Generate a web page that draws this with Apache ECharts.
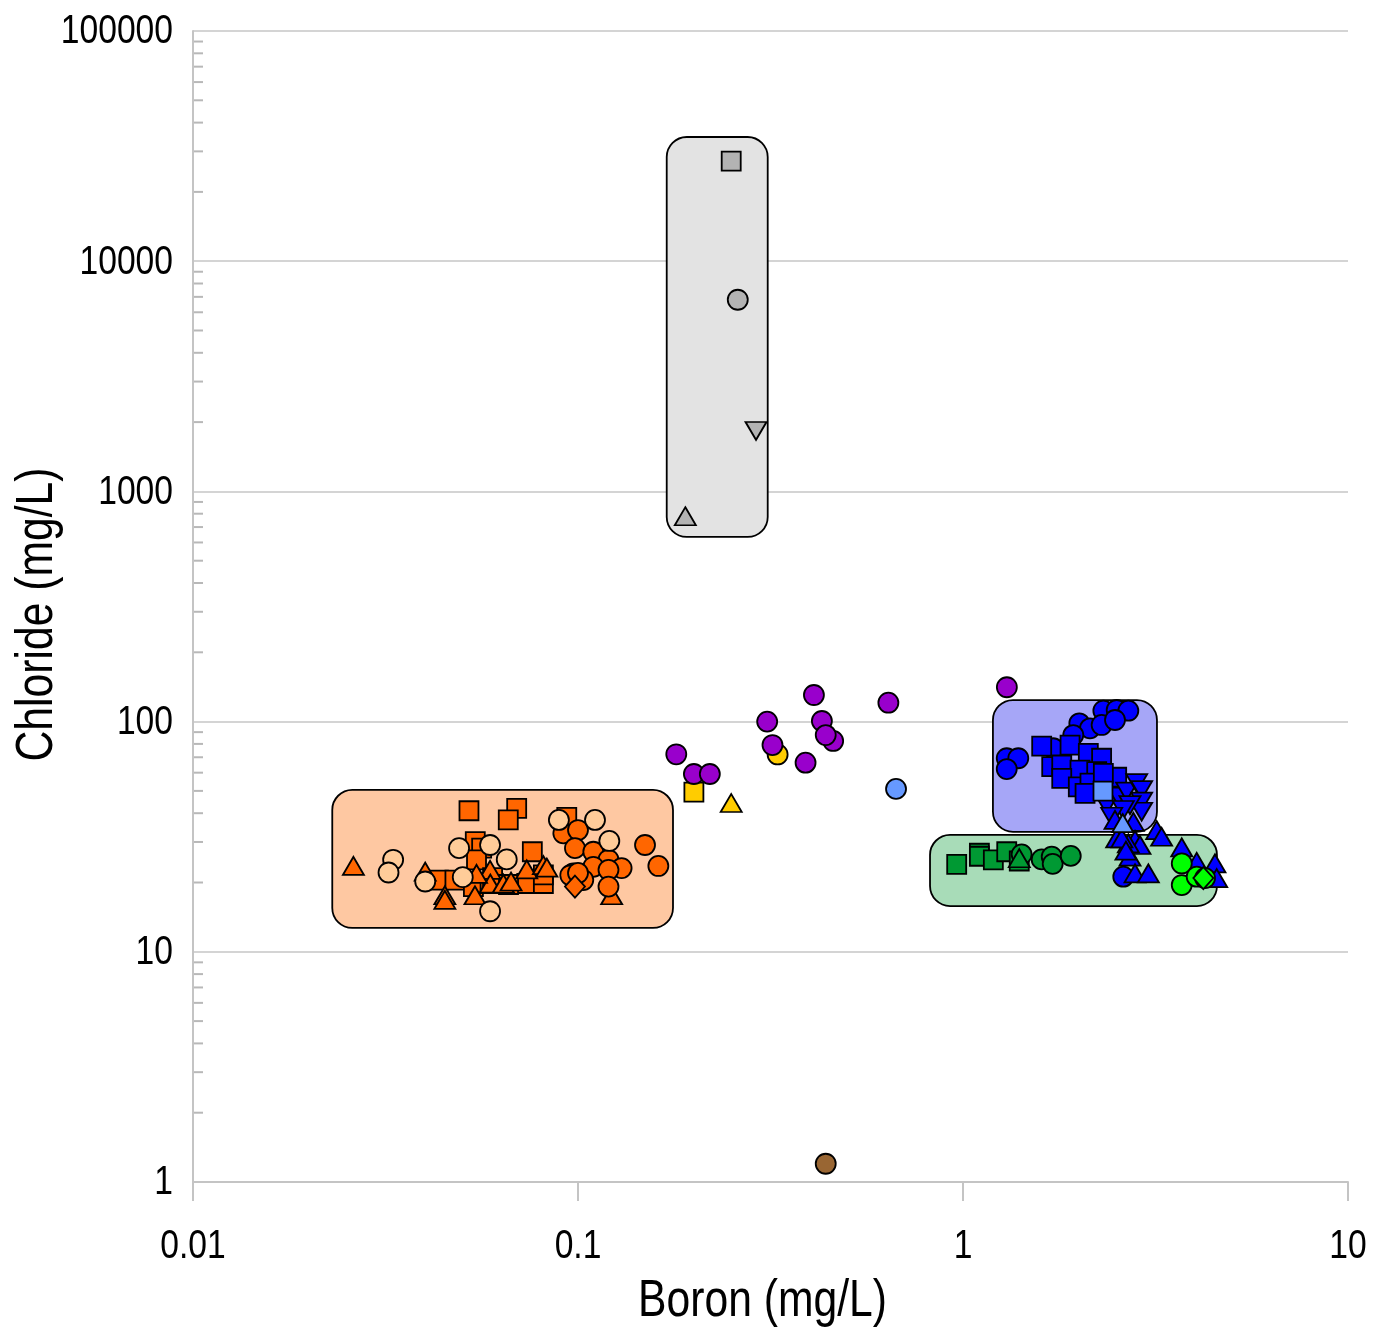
<!DOCTYPE html>
<html>
<head>
<meta charset="utf-8">
<title>Boron vs Chloride</title>
<script src="https://cdn.jsdelivr.net/npm/echarts@6/dist/echarts.min.js"></script>
<style>
  html, body { margin: 0; padding: 0; background: #ffffff; }
  #chart { width: 1373px; height: 1340px; }
</style>
</head>
<body>
<div id="chart"></div>
<script>
// Axis ticks (mg/L)
const boronTicks = [0.01, 0.1, 1, 10];
const chlorideTicks = [1, 10, 100, 1000, 10000, 100000];
const minorMultipliers = [2, 3, 4, 5, 6, 7, 8, 9];
const boronTitle = 'Boron (mg/L)';
const chlorideTitle = 'Chloride (mg/L)';

// Group envelopes: [boron min, boron max, chloride min, chloride max]
const envGrey   = [0.170, 0.311, 634, 34640];
const envOrange = [0.0230, 0.1765, 12.7, 50.5];
const envBlue   = [1.196, 3.19, 33.2, 124];
const envGreen  = [0.821, 4.567, 15.8, 32.2];

// Samples as [boron, chloride]
const greySquare   = [[0.25, 27200]];
const greyCircle   = [[0.26, 6800]];
const greyDown     = [[0.29, 1830]];
const greyUp       = [[0.19, 780]];

const blueCircles = [[1.299, 69.3], [1.392, 69.3], [1.299, 62.2], [2.005, 98.3], [2.137, 93.5],
  [2.315, 111.5], [2.507, 112.3], [2.688, 111.5], [2.291, 96.7], [2.482, 101.6],
  [1.934, 87.4], [1.716, 76.6], [2.608, 21.2]];
const blueSquares = [[1.601, 78.3], [1.897, 79.1], [2.116, 72.8], [2.291, 69.3], [1.70, 63.7],
  [1.805, 64.8], [2.013, 61.6], [2.225, 60.6], [2.507, 57.3], [1.805, 56.7],
  [1.993, 52.1], [2.137, 54.0], [2.075, 48.8], [2.315, 59.6]];
const blueDown = [[2.361, 43.4], [2.532, 47.2], [2.661, 49.6], [2.826, 54.0], [2.911, 50.4],
  [2.911, 44.9], [2.911, 40.6], [2.715, 43.4], [2.608, 41.3], [2.433, 38.6]];
const blueUp = [[2.482, 37.4], [2.507, 31.1], [2.77, 36.7], [2.798, 30.6], [2.882, 29.1],
  [2.688, 29.6], [3.185, 33.8], [3.28, 31.6], [2.715, 25.9], [2.798, 21.9],
  [3.03, 21.9], [3.70, 28.4], [4.046, 24.6], [4.513, 24.2], [4.56, 20.9],
  [2.586, 31.1], [2.65, 27.5]];
const paleBlueSquare = [[2.31, 49.9]];
const paleBlueUp     = [[2.6, 36.2]];
const paleBlueCircle = [[0.67, 51]];

const greenSquares  = [[0.963, 24.0], [1.103, 26.8], [1.103, 26.0], [1.199, 25.1], [1.299, 27.2], [1.40, 24.8]];
const greenCircles  = [[1.42, 26.5], [1.601, 25.2], [1.70, 25.9], [1.71, 24.1], [1.905, 26.1]];
const greenUp       = [[1.40, 25.5]];
const limeCircles   = [[3.70, 24.2], [3.70, 19.5], [4.046, 21.2], [4.253, 20.9]];
const limeDiamond   = [[4.21, 20.9]];

const orangeSquares = [[0.0521, 41.0], [0.0693, 42.0], [0.0659, 37.4], [0.0935, 38.4], [0.0541, 30.1],
  [0.0562, 28.2], [0.0545, 25.1], [0.0761, 27.2], [0.0434, 20.5], [0.0479, 20.5],
  [0.0535, 19.2], [0.0591, 19.8], [0.0736, 19.8], [0.0813, 19.8], [0.0813, 21.6],
  [0.0600, 21.0], [0.066, 19.6]];
const orangeUp = [[0.0261, 23.6], [0.0401, 22.3], [0.0451, 17.6], [0.0451, 16.8], [0.054, 17.6],
  [0.0591, 22.7], [0.0592, 19.8], [0.064, 19.8], [0.067, 20.2], [0.0736, 22.8],
  [0.0813, 23.8], [0.083, 23.2], [0.1223, 17.6], [0.0545, 21.8]];
const orangeCircles = [[0.0916, 32.7], [0.1, 33.8], [0.0982, 28.2], [0.1096, 27.2], [0.12, 25.1],
  [0.1096, 23.4], [0.1298, 23.1], [0.12, 22.7], [0.0972, 21.9], [0.0955, 21.5],
  [0.1032, 20.5], [0.12, 19.2], [0.1493, 29.1], [0.1617, 23.6], [0.1, 22.0]];
const orangeDiamond = [[0.0982, 19.2]];
const peachCircles = [[0.0331, 25.1], [0.0322, 22.1], [0.0401, 20.2], [0.0491, 28.2], [0.0502, 21.1],
  [0.0591, 29.1], [0.0653, 25.2], [0.0591, 15.0], [0.0892, 37.4], [0.1107, 37.4], [0.1206, 30.3]];

const yellowSquare = [[0.2, 49.4]];
const yellowCircle = [[0.33, 72]];
const yellowUp     = [[0.25, 44.3]];
const purpleCircles = [[0.18, 72.1], [0.2, 59.2], [0.22, 59.2], [0.31, 100], [0.32, 79.1],
  [0.41, 130.5], [0.43, 100.6], [0.46, 82.4], [0.44, 87.4], [0.39, 66.3], [0.64, 120.8], [1.3, 141]];
const brownCircle = [[0.44, 1.2]];

// Liberation Sans squeezed horizontally stands in for a narrow sans face
const FONT = '"Liberation Sans", Arial, sans-serif';
const NARROW = 0.82;

const chart = echarts.init(document.getElementById('chart'), null, { renderer: 'canvas' });

function fmt(v) { return String(+(+v).toPrecision(6)); }

function scatter(name, data, color, symbol, size, rotate) {
  return {
    name: name,
    type: 'scatter',
    data: data,
    symbol: symbol,
    symbolSize: size,
    symbolRotate: rotate || 0,
    itemStyle: { color: color, borderColor: '#000000', borderWidth: 1.8, opacity: 1 },
    emphasis: { disabled: true },
    silent: true
  };
}

const circleSize = 20;
const squareSize = 19;
const triSize = [21, 18];
const diamondSize = [20, 22];

// rounded envelope boxes behind each group
const envelopeSeries = {
  type: 'custom',
  silent: true,
  z: 1,
  clip: false,
  data: [
    envGrey.concat(0), envOrange.concat(1), envBlue.concat(2), envGreen.concat(3)
  ],
  encode: { x: [0, 1], y: [2, 3] },
  renderItem: function (params, api) {
    const fills = ['#e3e3e3', '#fec8a2', '#a6a6f7', '#a8dcb8'];
    const tl = api.coord([api.value(0), api.value(3)]);
    const br = api.coord([api.value(1), api.value(2)]);
    return {
      type: 'rect',
      shape: { x: tl[0], y: tl[1], width: br[0] - tl[0], height: br[1] - tl[1], r: 20 },
      style: { fill: fills[api.value(4)], stroke: '#000000', lineWidth: 1.8 }
    };
  }
};

// minor ticks along the chloride axis (2..9 within each decade)
const minorTickValues = [];
chlorideTicks.slice(0, -1).forEach(function (d) {
  minorMultipliers.forEach(function (m) { minorTickValues.push([boronTicks[0], d * m]); });
});
const minorTickSeries = {
  type: 'custom',
  silent: true,
  z: 0,
  clip: false,
  data: minorTickValues,
  renderItem: function (params, api) {
    const p = api.coord([api.value(0), api.value(1)]);
    return {
      type: 'line',
      shape: { x1: p[0], y1: p[1], x2: p[0] + 10, y2: p[1] },
      style: { stroke: '#b8b8b8', lineWidth: 2 }
    };
  }
};

const option = {
  animation: false,
  backgroundColor: '#ffffff',
  grid: { left: 193, right: 25, top: 31, bottom: 158, containLabel: false, outerBoundsMode: 'none' },
  xAxis: {
    type: 'log',
    logBase: 10,
    min: boronTicks[0],
    max: boronTicks[boronTicks.length - 1],
    axisLine: { show: true, lineStyle: { color: '#c4c4c4', width: 2 } },
    axisTick: { show: true, length: 19, inside: false, lineStyle: { color: '#c4c4c4', width: 2 } },
    axisLabel: { show: false },
    splitLine: { show: false }
  },
  yAxis: {
    type: 'log',
    logBase: 10,
    min: chlorideTicks[0],
    max: chlorideTicks[chlorideTicks.length - 1],
    axisLine: { show: true, lineStyle: { color: '#c4c4c4', width: 2 } },
    axisTick: { show: false },
    axisLabel: { show: false },
    splitLine: { show: true, lineStyle: { color: '#d4d4d4', width: 2 } }
  },
  series: [
    envelopeSeries,
    minorTickSeries,
    scatter('grey square', greySquare, '#b3b3b3', 'rect', squareSize),
    scatter('grey circle', greyCircle, '#b3b3b3', 'circle', circleSize),
    scatter('grey down', greyDown, '#b3b3b3', 'triangle', triSize, 180),
    scatter('grey up', greyUp, '#b3b3b3', 'triangle', triSize),
    scatter('blue circles', blueCircles, '#0000ff', 'circle', circleSize),
    scatter('blue squares', blueSquares, '#0000ff', 'rect', squareSize),
    scatter('blue down', blueDown, '#0000ff', 'triangle', triSize, 180),
    scatter('blue up', blueUp, '#0000ff', 'triangle', triSize),
    scatter('pale blue square', paleBlueSquare, '#6699ff', 'rect', squareSize),
    scatter('pale blue up', paleBlueUp, '#6699ff', 'triangle', triSize),
    scatter('pale blue circle', paleBlueCircle, '#6699ff', 'circle', circleSize),
    scatter('green squares', greenSquares, '#009933', 'rect', squareSize),
    scatter('green circles', greenCircles, '#009933', 'circle', circleSize),
    scatter('green up', greenUp, '#009933', 'triangle', triSize),
    scatter('lime circles', limeCircles, '#00ff00', 'circle', circleSize),
    scatter('lime diamond', limeDiamond, '#00ff00', 'diamond', diamondSize),
    scatter('orange squares', orangeSquares, '#ff6600', 'rect', squareSize),
    scatter('orange up', orangeUp, '#ff6600', 'triangle', triSize),
    scatter('orange circles', orangeCircles, '#ff6600', 'circle', circleSize),
    scatter('orange diamond', orangeDiamond, '#ff6600', 'diamond', diamondSize),
    scatter('peach circles', peachCircles, '#ffcc99', 'circle', circleSize),
    scatter('yellow square', yellowSquare, '#ffcc00', 'rect', squareSize),
    scatter('yellow circle', yellowCircle, '#ffcc00', 'circle', circleSize),
    scatter('yellow up', yellowUp, '#ffcc00', 'triangle', triSize),
    scatter('purple circles', purpleCircles, '#9900cc', 'circle', circleSize),
    scatter('brown circle', brownCircle, '#996633', 'circle', circleSize)
  ]
};

chart.setOption(option);

// Tick labels and axis titles, placed from the axes' own scales
function narrowText(x, y, text, size, align, rotation) {
  return {
    type: 'text',
    x: x, y: y,
    rotation: rotation || 0,
    scaleX: NARROW,
    silent: true,
    z: 10,
    style: {
      text: text,
      fill: '#000000',
      font: size + 'px ' + FONT,
      align: align,
      verticalAlign: 'middle'
    }
  };
}

const grid = chart.getModel().getComponent('grid').coordinateSystem.getRect();
const axisX = grid.x;
const axisY = grid.y + grid.height;
const labels = [];
boronTicks.forEach(function (v) {
  const px = chart.convertToPixel({ xAxisIndex: 0 }, v);
  labels.push(narrowText(px, axisY + 65, fmt(v), 41, 'center'));
});
chlorideTicks.forEach(function (v) {
  const py = chart.convertToPixel({ yAxisIndex: 0 }, v);
  labels.push(narrowText(axisX - 20, py + 1, fmt(v), 41, 'right'));
});
labels.push(narrowText(grid.x + grid.width / 2 - 8, axisY + 120, boronTitle, 52, 'center'));
labels.push(narrowText(axisX - 155, grid.y + grid.height / 2 + 8, chlorideTitle, 52, 'center', Math.PI / 2));

chart.setOption({ graphic: { elements: labels } });
</script>
</body>
</html>
